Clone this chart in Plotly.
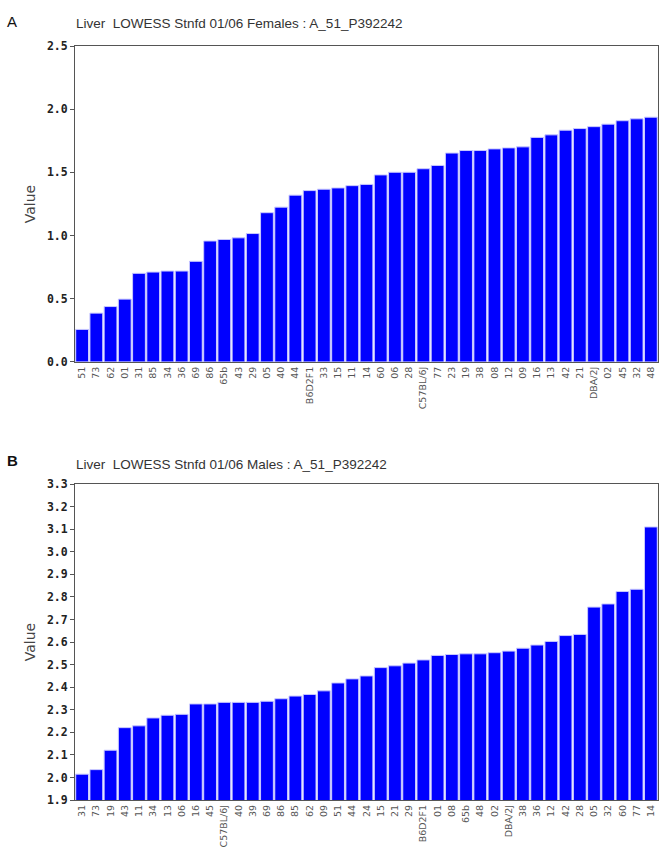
import plotly.graph_objects as go

# Panel A (Females)
cats_a = ["51", "73", "62", "01", "31", "85", "34", "36", "69", "86", "65b", "43", "29", "05", "40",
          "44", "B6D2F1", "33", "15", "11", "14", "60", "06", "28", "C57BL/6J", "77", "23", "19", "38",
          "08", "12", "09", "16", "13", "42", "21", "DBA/2J", "02", "45", "32", "48"]
vals_a = [0.257, 0.386, 0.438, 0.497, 0.701, 0.711, 0.719, 0.719, 0.796, 0.957, 0.969, 0.982, 1.016,
          1.181, 1.225, 1.320, 1.356, 1.367, 1.377, 1.395, 1.405, 1.480, 1.501, 1.501, 1.529, 1.555,
          1.653, 1.673, 1.673, 1.686, 1.694, 1.702, 1.777, 1.797, 1.834, 1.847, 1.862, 1.882, 1.909,
          1.924, 1.937]

# Panel B (Males)
cats_b = ["31", "73", "19", "43", "11", "34", "13", "06", "16", "45", "C57BL/6J", "40", "39", "69", "86",
          "85", "62", "09", "51", "44", "24", "15", "21", "29", "B6D2F1", "01", "08", "65b", "48", "02",
          "DBA/2J", "38", "36", "12", "42", "28", "05", "32", "60", "77", "14"]
vals_b = [2.015, 2.035, 2.121, 2.221, 2.229, 2.264, 2.276, 2.280, 2.326, 2.326, 2.333, 2.333, 2.333,
          2.338, 2.349, 2.361, 2.368, 2.384, 2.419, 2.437, 2.450, 2.487, 2.495, 2.507, 2.521, 2.541,
          2.545, 2.548, 2.548, 2.553, 2.560, 2.573, 2.587, 2.603, 2.629, 2.634, 2.755, 2.769, 2.824,
          2.834, 3.110]

title_a = "Liver\u00a0\u00a0LOWESS Stnfd 01/06 Females : A_51_P392242"
title_b = "Liver\u00a0\u00a0LOWESS Stnfd 01/06 Males : A_51_P392242"

W, H = 666, 856
def py(px):
    return 1 - px / H
def pxx(px):
    return px / W

bar_style = dict(marker=dict(color="#0000ff", line=dict(color="#c8c8ff", width=1)))

fig = go.Figure()
fig.add_trace(go.Bar(x=cats_a, y=vals_a, xaxis="x", yaxis="y", **bar_style))
fig.add_trace(go.Bar(x=cats_b, y=vals_b, xaxis="x2", yaxis="y2", **bar_style))

xdom = [pxx(75), pxx(658)]
tickfont_y = dict(family="DejaVu Sans Mono", size=11.5, color="#222", weight="bold")
tickfont_x = dict(family="DejaVu Sans", size=9.5, color="#555")
axline = dict(showline=True, mirror=True, linecolor="#555", linewidth=1, showgrid=False, zeroline=False)
ytitle_font = dict(family="DejaVu Sans", size=14, color="#444")

fig.update_layout(
    width=W, height=H, margin=dict(l=0, r=0, t=0, b=0),
    paper_bgcolor="white", plot_bgcolor="white", showlegend=False, bargap=0.1,
    xaxis=dict(domain=xdom, anchor="y", type="category", range=[-0.5, 40.5], tickangle=-90,
               tickfont=tickfont_x, ticks="", **axline),
    yaxis=dict(domain=[py(360.8), py(39.7)], anchor="x", range=[0, 2.5], dtick=0.5, tickformat=".1f",
               ticks="outside", ticklen=4, tickcolor="#555", tickfont=tickfont_y,
               title=dict(text="Value", font=ytitle_font, standoff=8),
               **axline),
    xaxis2=dict(domain=xdom, anchor="y2", type="category", range=[-0.5, 40.5], tickangle=-90,
                tickfont=tickfont_x, ticks="", **axline),
    yaxis2=dict(domain=[py(806.3), py(485)], anchor="x2", range=[1.9, 3.3], dtick=0.1, tickformat=".1f",
                ticks="outside", ticklen=4, tickcolor="#555", tickfont=tickfont_y,
                title=dict(text="Value", font=ytitle_font, standoff=8),
                **axline),
    annotations=[
        dict(text="A", x=pxx(5), y=py(15), xref="paper", yref="paper", xanchor="left", yanchor="middle",
             showarrow=False, font=dict(family="Liberation Sans", size=15, color="#111")),
        dict(text=title_a, x=pxx(74), y=py(17), xref="paper", yref="paper", xanchor="left", yanchor="middle",
             showarrow=False, font=dict(family="Liberation Sans", size=13.5, color="#333")),
        dict(text="<b>B</b>", x=pxx(5), y=py(461), xref="paper", yref="paper", xanchor="left", yanchor="middle",
             showarrow=False, font=dict(family="Liberation Sans", size=15, color="#111")),
        dict(text=title_b, x=pxx(74), y=py(465), xref="paper", yref="paper", xanchor="left", yanchor="middle",
             showarrow=False, font=dict(family="Liberation Sans", size=13.5, color="#333")),
    ],
)

fig.write_html("out.html")
